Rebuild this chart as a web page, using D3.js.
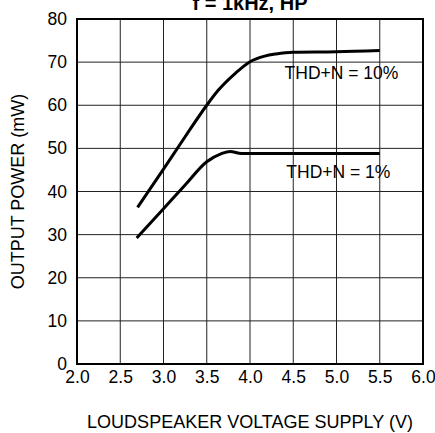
<!DOCTYPE html>
<html>
<head>
<meta charset="utf-8">
<script src="https://cdn.jsdelivr.net/npm/d3@7"></script>
<style>
  body { margin: 0; background: #fff; }
  text { font-family: "Liberation Sans", Arial, sans-serif; fill: #000; }
</style>
</head>
<body>
<div id="chart"></div>
<script>
// data
var supply10 = [2.70, 3.0, 3.25, 3.5, 3.63, 3.83, 4.0, 4.17, 4.3, 4.5, 5.0, 5.5];
var power10  = [36.3, 45.2, 52.7, 60.0, 63.4, 67.4, 70.1, 71.4, 71.9, 72.3, 72.4, 72.7];
var supply1  = [2.69, 3.0, 3.25, 3.5, 3.67, 3.77, 3.9, 4.5, 5.5];
var power1   = [29.2, 36.0, 41.5, 46.9, 48.8, 49.3, 48.8, 48.8, 48.8];
var xTicks = [2.0, 2.5, 3.0, 3.5, 4.0, 4.5, 5.0, 5.5, 6.0];
var yTicks = [0, 10, 20, 30, 40, 50, 60, 70, 80];
var labels = [{text: "THD+N = 10%", v: 4.40, p: 66.1}, {text: "THD+N = 1%", v: 4.42, p: 43.1}];

var margin = {top: 19, right: 12, bottom: 69, left: 77},
    width = 435 - margin.left - margin.right,
    height = 433 - margin.top - margin.bottom;

var svg = d3.select("#chart")
  .append("svg")
    .attr("width", 435)
    .attr("height", 433)
  .append("g")
    .attr("transform", "translate(" + margin.left + "," + margin.top + ")");

var x = d3.scaleLinear().domain([2, 6]).range([0, width]);
var y = d3.scaleLinear().domain([0, 80]).range([height, 0]);

// grid
svg.append("g")
  .selectAll("line.v")
  .data(xTicks)
  .enter().append("line")
    .attr("x1", function(d) { return x(d); })
    .attr("x2", function(d) { return x(d); })
    .attr("y1", 0).attr("y2", height)
    .attr("stroke", "#222").attr("stroke-width", 1);
svg.append("g")
  .selectAll("line.h")
  .data(yTicks)
  .enter().append("line")
    .attr("y1", function(d) { return y(d); })
    .attr("y2", function(d) { return y(d); })
    .attr("x1", 0).attr("x2", width)
    .attr("stroke", "#222").attr("stroke-width", 1);

svg.append("rect")
  .attr("width", width).attr("height", height)
  .attr("fill", "none").attr("stroke", "#000").attr("stroke-width", 2);

// axes (labels only)
var xAxis = svg.append("g")
  .attr("transform", "translate(0," + height + ")")
  .call(d3.axisBottom(x).tickValues(xTicks).tickFormat(d3.format(".1f")).tickSize(0).tickPadding(7));
var yAxis = svg.append("g")
  .call(d3.axisLeft(y).tickValues(yTicks).tickSize(0).tickPadding(10));
[xAxis, yAxis].forEach(function(a) {
  a.select(".domain").remove();
  a.selectAll("text").style("font-size", "17.5px").attr("fill", "#000")
    .style("font-family", "'Liberation Sans', Arial, sans-serif");
});

var line = d3.line()
  .x(function(d) { return x(d[0]); })
  .y(function(d) { return y(d[1]); })
  .curve(d3.curveMonotoneX);

svg.append("path")
  .datum(d3.zip(supply10, power10))
  .attr("d", line)
  .attr("fill", "none").attr("stroke", "#000").attr("stroke-width", 3);
svg.append("path")
  .datum(d3.zip(supply1, power1))
  .attr("d", line)
  .attr("fill", "none").attr("stroke", "#000").attr("stroke-width", 3);

svg.selectAll("text.lab")
  .data(labels)
  .enter().append("text")
    .attr("class", "lab")
    .attr("x", function(d) { return x(d.v); })
    .attr("y", function(d) { return y(d.p); })
    .style("font-size", "17.5px")
    .text(function(d) { return d.text; });

// titles
svg.append("text")
  .attr("x", width / 2).attr("y", -9)
  .attr("text-anchor", "middle")
  .style("font-size", "20px").style("font-weight", "bold")
  .text("f = 1kHz, HP");

svg.append("text")
  .attr("x", width / 2).attr("y", height + 64)
  .attr("text-anchor", "middle")
  .style("font-size", "18px")
  .text("LOUDSPEAKER VOLTAGE SUPPLY (V)");

svg.append("text")
  .attr("transform", "translate(" + (-53) + "," + (height / 2) + ") rotate(-90)")
  .attr("text-anchor", "middle")
  .style("font-size", "18px")
  .text("OUTPUT POWER (mW)");
</script>
</body>
</html>
